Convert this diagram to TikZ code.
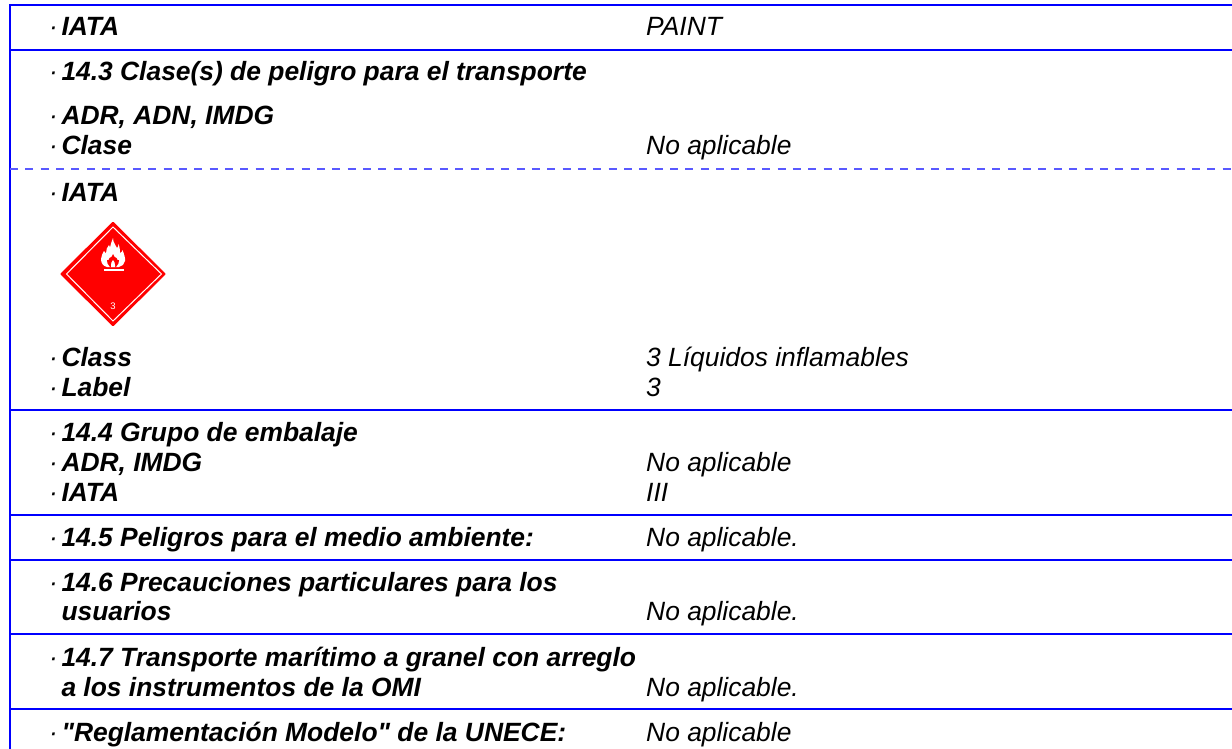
\documentclass[tikz,border=0pt]{standalone}
\usepackage{fontspec}
\setmainfont{Liberation Sans}
\newfontfamily\rawfont{Liberation Sans}
\definecolor{rule}{RGB}{0,0,255}
\newcommand{\dotmark}{\makebox[12.3pt][l]{\textmd{·}}}
\tikzset{x=1pt,y=-1pt,
 frame/.style={draw=rule,line width=2pt},
 sep/.style={draw=rule,line width=1.8pt},
 dashsep/.style={draw=rule!65,line width=1.2pt,dash pattern=on 8pt off 7.35pt},
 lab/.style={anchor=base west,inner sep=0pt,font=\fontsize{26.4}{30}\selectfont\bfseries\itshape},
 val/.style={anchor=base west,inner sep=0pt,font=\fontsize{26.4}{30}\selectfont\itshape}}
\begin{document}
\begin{tikzpicture}
\useasboundingbox (0,0) rectangle (1232,749);
\fill[white] (0,0) rectangle (1232,749);
\coordinate (tl) at (10,5); \coordinate (tr) at (1232,5); \coordinate (bl) at (10,749);
\draw[frame] (tr) -- (tl) -- (bl);
\foreach \n/\y in {a/50,b/410,c/515,d/560,e/634,f/709}{
 \coordinate (\n l) at (10,\y); \coordinate (\n r) at (1232,\y);
 \draw[sep] (\n l) -- (\n r);}
\coordinate (gl) at (10,169); \coordinate (gr) at (1232,169);
\draw[dashsep] (gl) -- (gr);
\node[lab] (l1) at (49,36) {\dotmark IATA};
\node[val] (v1) at (646,36) {PAINT};
\node[lab] (l2) at (49,81) {\dotmark 14.3 Clase(s) de peligro para el transporte};
\node[lab] (l3) at (49,125) {\dotmark ADR, ADN, IMDG};
\node[lab] (l4) at (49,155) {\dotmark Clase};
\node[val] (v4) at (646,155) {No aplicable};
\node[lab] (l5) at (49,201) {\dotmark IATA};
\node[lab] (l6) at (49,366) {\dotmark Class};
\node[val] (v6) at (646,366) {3 Líquidos inflamables};
\node[lab] (l7) at (49,396) {\dotmark Label};
\node[val] (v7) at (646,396) {3};
\node[lab] (l8) at (49,441) {\dotmark 14.4 Grupo de embalaje};
\node[lab] (l9) at (49,471) {\dotmark ADR, IMDG};
\node[val] (v9) at (646,471) {No aplicable};
\node[lab] (l10) at (49,501) {\dotmark IATA};
\node[val] (v10) at (646,501) {III};
\node[lab] (l11) at (49,546) {\dotmark 14.5 Peligros para el medio ambiente:};
\node[val] (v11) at (646,546) {No aplicable.};
\node[lab] (l12) at (49,591) {\dotmark 14.6 Precauciones particulares para los};
\node[lab] (l13) at (61.3,620) {usuarios};
\node[val] (v13) at (646,620) {No aplicable.};
\node[lab] (l14) at (49,666) {\dotmark 14.7 Transporte marítimo a granel con arreglo};
\node[lab] (l15) at (61.3,696) {a los instrumentos de la OMI};
\node[val] (v15) at (646,696) {No aplicable.};
\node[lab] (l16) at (49,741) {\dotmark {\rawfont\bfseries\itshape "Reglamentación Modelo" de la UNECE:}};
\node[val] (v16) at (646,741) {No aplicable};
% placard
\fill[red,rounded corners=1pt] (113,221.5) -- (166,274) -- (113,326.5) -- (60,274) -- cycle;
\draw[white,line width=1pt] (113,227) -- (161.5,274) -- (113,321) -- (66.5,274) -- cycle;
\fill[white] (113,238) .. controls (113,243) and (116,245) .. (117,248) .. controls (118,247) and (118.5,246) .. (118.5,244) .. controls (120,248) and (120,251) .. (120,253) .. controls (122,252) and (122.5,251) .. (122.5,250) .. controls (124,254) and (125.5,258) .. (125,261) .. controls (124.5,264) and (122,266.5) .. (119,267) -- (107,267) .. controls (103,266) and (101,263) .. (101,259) .. controls (101,256) and (103,253) .. (104,251) .. controls (104.5,252) and (105,253) .. (106,253.5) .. controls (106,250) and (107,247) .. (109,245) .. controls (109,246) and (109.5,247) .. (110,247.5) .. controls (110.5,244) and (112,241) .. (113,238) -- cycle;
\fill[red] (113,254) .. controls (113.5,256) and (115,258) .. (116.5,258) .. controls (117,260) and (118,261) .. (119,260) .. controls (119.5,262) and (118,265) .. (116,267) -- (110,267) .. controls (108,265) and (106.5,262) .. (107,260) .. controls (108,261) and (109,260) .. (109.5,258) .. controls (111,258) and (112.5,256) .. (113,254) -- cycle;
\fill[white] (113,260) .. controls (114,262) and (115.5,263) .. (115,265) -- (115,267) -- (111,267) -- (111,265) .. controls (110.5,263) and (112,262) .. (113,260) -- cycle;
\fill[white] (104,269) rectangle (124,271);
\node[inner sep=0pt,text=white,font=\fontsize{9.5}{10}\selectfont] (n3) at (113,306.5) {3};
\end{tikzpicture}
\end{document}
